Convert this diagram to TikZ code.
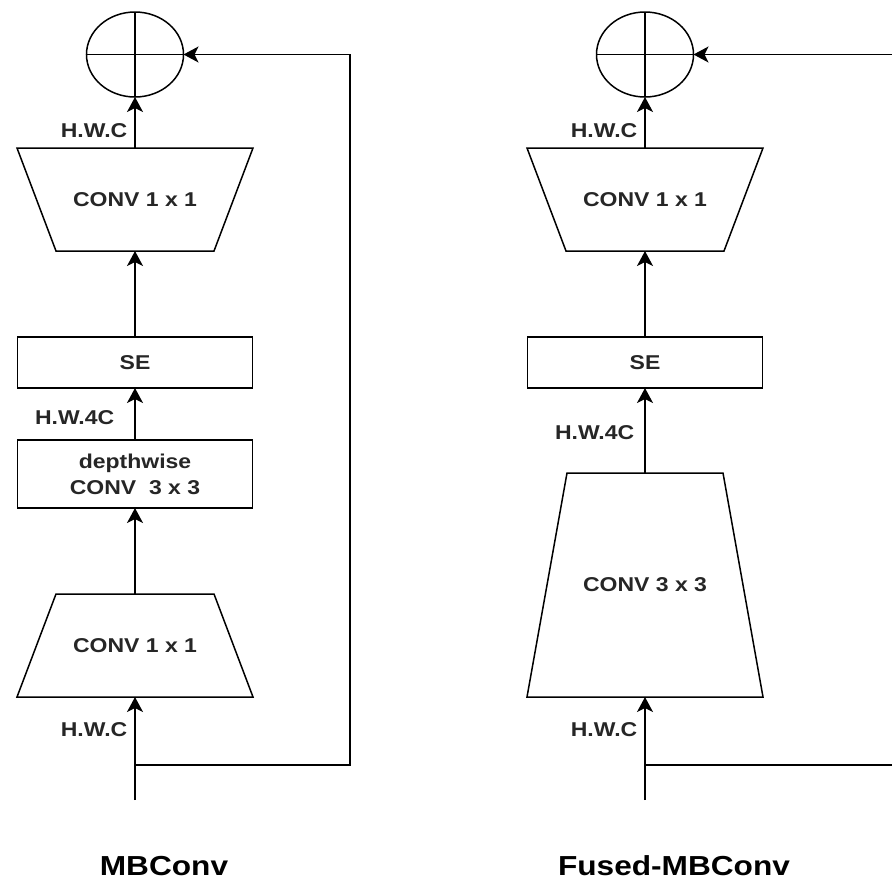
\documentclass[tikz,border=0pt]{standalone}
\usepackage{fontspec}
\setmainfont{Liberation Sans}[FakeStretch=1.15]
\usetikzlibrary{arrows.meta,positioning,shapes.geometric}

\begin{document}
\begin{tikzpicture}[
    x=1pt,y=-1pt,
    line width=1.5pt,
    font=\fontsize{20}{26}\selectfont\bfseries,
    text=black!85,
    block/.style={draw=black,rectangle,minimum width=235pt,inner sep=0pt,outer sep=0pt,align=center},
    trap/.style={rectangle,minimum width=236pt,inner sep=0pt,outer sep=0pt},
    adder/.style={draw=black,ellipse,minimum width=97pt,minimum height=85pt,inner sep=0pt,outer sep=0pt},
    dim/.style={left,inner sep=0pt,xshift=-7pt},
    title/.style={font=\fontsize{27.5}{32}\selectfont\bfseries,text=black},
    line/.style={-{Stealth[length=15pt,width=16pt,inset=4pt]}}
]
    \useasboundingbox (0,0) rectangle (892,881);

    % MBConv
    \coordinate (inL) at (135,800);
    \node[trap,minimum height=103pt,above=103pt of inL] (expL) {CONV 1 x 1};
    \node[block,minimum height=68pt,above=86pt of expL] (dwL) {depthwise\\CONV~~3 x 3};
    \node[block,minimum height=51pt,above=52pt of dwL] (seL) {SE};
    \node[trap,minimum height=103pt,above=86pt of seL] (redL) {CONV 1 x 1};
    \node[adder,above=51pt of redL] (sumL) {};
    \coordinate[above=35pt of inL] (brL);
    \coordinate (turnL) at (350,765);
    \node[title] (mbL) at (164,866) {MBConv};

    % Fused-MBConv
    \coordinate (inR) at (645,800);
    \node[trap,minimum height=224pt,above=103pt of inR] (fusR) {CONV 3 x 3};
    \node[block,minimum height=51pt,above=85pt of fusR] (seR) {SE};
    \node[trap,minimum height=103pt,above=86pt of seR] (redR) {CONV 1 x 1};
    \node[adder,above=51pt of redR] (sumR) {};
    \coordinate[above=35pt of inR] (brR);
    \coordinate (turnR) at (905,765);
    \node[title] (mbR) at (674,866) {Fused-MBConv};

    % trapezoid outlines
    \draw ([xshift=39pt]expL.north west)--([xshift=-39pt]expL.north east)--(expL.south east)--(expL.south west)--cycle;
    \draw (redL.north west)--(redL.north east)--([xshift=-39pt]redL.south east)--([xshift=39pt]redL.south west)--cycle;
    \draw ([xshift=40pt]fusR.north west)--([xshift=-40pt]fusR.north east)--(fusR.south east)--(fusR.south west)--cycle;
    \draw (redR.north west)--(redR.north east)--([xshift=-39pt]redR.south east)--([xshift=39pt]redR.south west)--cycle;

    \draw (sumL.north)--(sumL.south) (sumL.west)--(sumL.east);
    \draw (sumR.north)--(sumR.south) (sumR.west)--(sumR.east);

    \draw[line] (inL)--node[dim,pos=0.68]{H.W.C}(expL);
    \draw[line] (expL)--(dwL);
    \draw[line] (dwL)--node[dim,pos=0.44,xshift=-13pt]{H.W.4C}(seL);
    \draw[line] (seL)--(redL);
    \draw[line] (redL)--node[dim,pos=0.35]{H.W.C}(sumL);
    \draw[line] (brL)--(turnL) |- (sumL.east);

    \draw[line] (inR)--node[dim,pos=0.68]{H.W.C}(fusR);
    \draw[line] (fusR)--node[dim,pos=0.47,xshift=-3pt]{H.W.4C}(seR);
    \draw[line] (seR)--(redR);
    \draw[line] (redR)--node[dim,pos=0.35]{H.W.C}(sumR);
    \draw[line] (brR)--(turnR) |- (sumR.east);
\end{tikzpicture}
\end{document}
